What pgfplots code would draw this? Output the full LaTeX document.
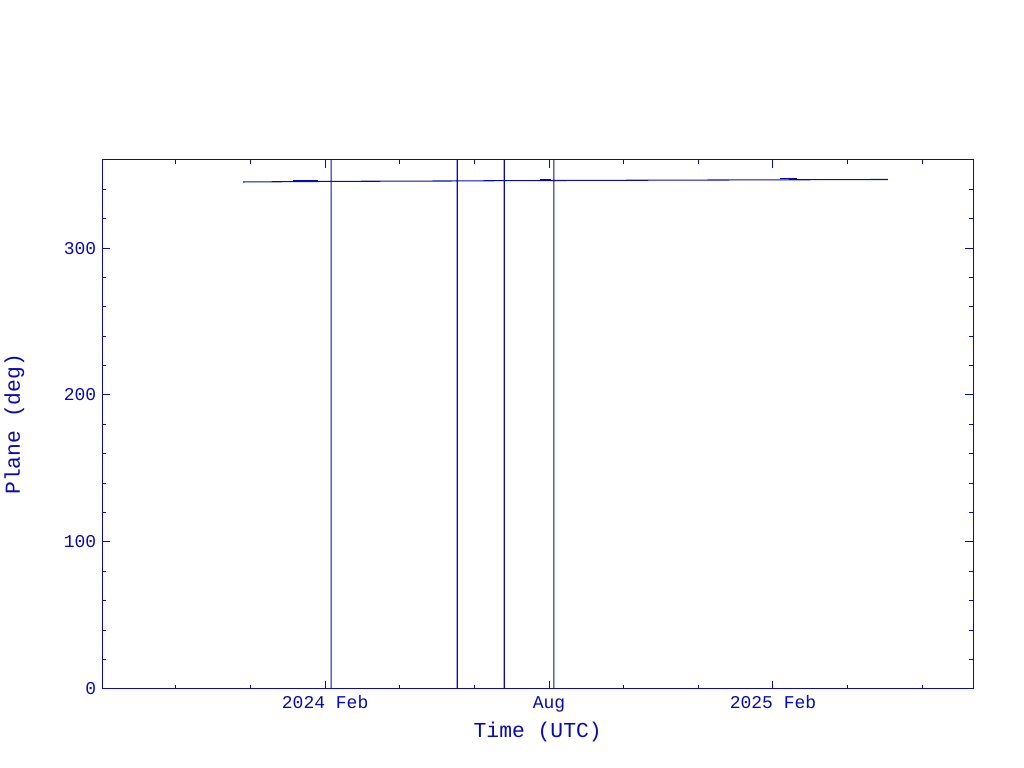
\documentclass[border=0pt]{standalone}
\usepackage{pgfplots}
\pgfplotsset{compat=1.18}
\usepackage{fontspec}
\setmainfont{Liberation Mono}
\definecolor{pg}{RGB}{10,10,170}
\begin{document}
\begin{tikzpicture}[x=1pt,y=1pt]
\begin{axis}[
  name=ax,
  scale only axis,
  width=653.25pt, height=396.75pt,
  xmin=-5.97, xmax=17.36,
  ymin=0, ymax=360,
  axis line style={pg, line width=0.75pt},
  every tick/.style={pg, line width=0.75pt},
  tick align=inside,
  major tick length=6pt,
  minor tick length=3pt,
  xtick={0,6,12},
  xticklabels={2024 Feb, Aug, 2025 Feb},
  minor xtick={-4,-2,2,4,8,10,14,16},
  ytick={0,100,200,300},
  minor ytick={20,40,60,80,120,140,160,180,220,240,260,280,320,340},
  ticklabel style={font=\fontsize{13.5}{15}\selectfont, text=pg},
  /pgf/number format/assume math mode=true,
  xticklabel style={yshift=-3.5pt, text height=0.75em, text depth=0.25em},
  yticklabel style={xshift=-1pt},
  xlabel={Time (UTC)},
  ylabel={Plane (deg)},
  label style={font=\fontsize{16}{18}\selectfont, text=pg},
  xlabel style={at={(axis description cs:0.5,-0.0813)}, anchor=center},
  ylabel style={at={(axis description cs:-0.101,0.5)}, anchor=center, rotate=0},
]
\addplot[pg, line width=0.8pt, sharp plot] table {
x y
-2.20 345.0
0.16 345.4
0.16 0
0.16 360
0.16 345.4
3.54 345.7
3.54 0
3.54 360
3.54 345.7
4.80 345.9
4.80 0
4.80 360
4.80 345.9
6.13 346.0
6.13 0
6.13 360
6.13 346.0
15.08 346.7
};
\addplot[pg, line width=0.8pt, sharp plot] table {
x y
-0.86 345.8
-0.19 345.8
};
\addplot[pg, line width=0.8pt, sharp plot] table {
x y
5.76 346.4
6.05 346.4
};
\addplot[pg, line width=0.8pt, sharp plot] table {
x y
12.19 347.2
12.64 347.2
};
\end{axis}
\path[use as bounding box] ([xshift=-76.5pt,yshift=-59.25pt]ax.south west) rectangle ([xshift=38.25pt,yshift=120pt]ax.north east);
\end{tikzpicture}
\end{document}
